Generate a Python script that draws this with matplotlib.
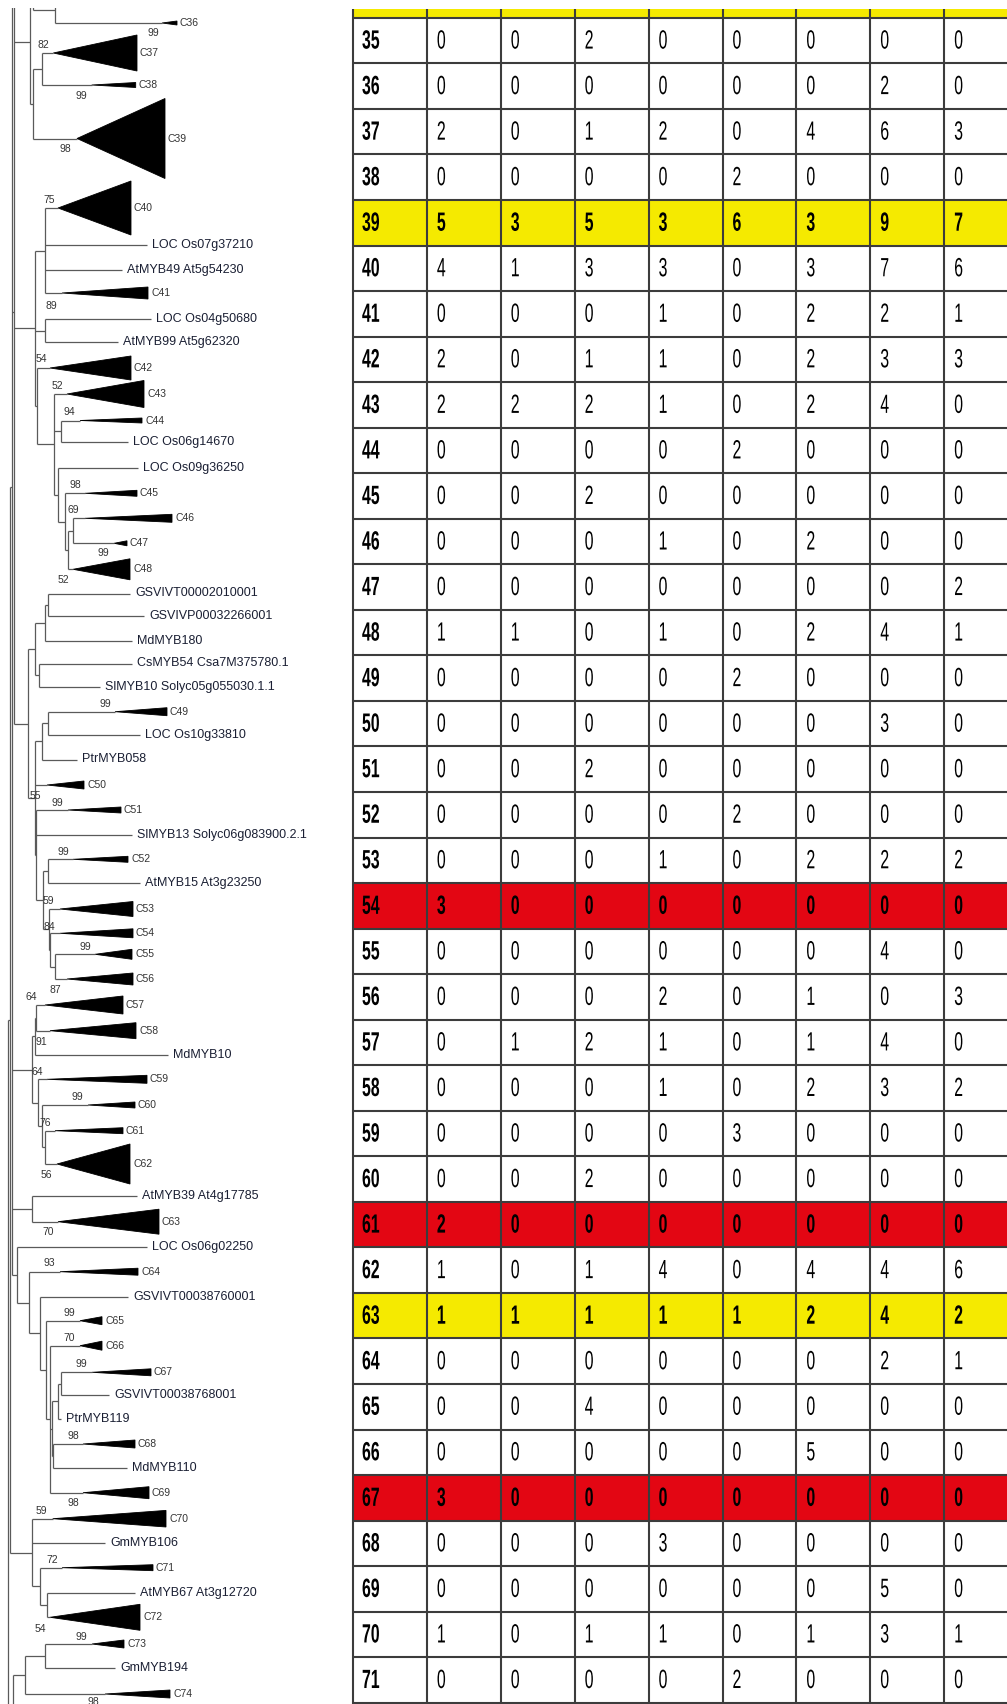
import matplotlib.pyplot as plt
from matplotlib.patches import Polygon, Rectangle
from matplotlib.collections import LineCollection
from matplotlib.patheffects import AbstractPathEffect
from matplotlib.transforms import Affine2D

W, H = 1007, 1704

# ---- tree data (pixel units of the original figure) ----
# leaf name -> (y, end of branch)
leaves = {
    'LOC Os07g37210': (245, 147),
    'AtMYB49 At5g54230': (270, 122),
    'LOC Os04g50680': (319, 151),
    'AtMYB99 At5g62320': (342, 118),
    'LOC Os06g14670': (442.3, 128),
    'LOC Os09g36250': (467.7, 138),
    'GSVIVT00002010001': (593.5, 130),
    'GSVIVP00032266001': (616, 144),
    'MdMYB180': (640.5, 132),
    'CsMYB54 Csa7M375780.1': (663.5, 132),
    'SlMYB10 Solyc05g055030.1.1': (687, 100),
    'LOC Os10g33810': (735, 140),
    'PtrMYB058': (759.5, 77),
    'SlMYB13 Solyc06g083900.2.1': (835, 132),
    'AtMYB15 At3g23250': (883, 140),
    'MdMYB10': (1055, 168),
    'AtMYB39 At4g17785': (1196, 137),
    'LOC Os06g02250': (1246.7, 147),
    'GSVIVT00038760001': (1296.7, 128),
    'GSVIVT00038768001': (1395, 109),
    'PtrMYB119': (1419, 61),
    'MdMYB110': (1468, 127),
    'GmMYB106': (1543.3, 105),
    'AtMYB67 At3g12720': (1592.7, 135),
    'GmMYB194': (1668.3, 115),
}
# branches that continue outside the cropped view
hidden = {'_t1': (-300, 200), '_t2': (-100, 200), '_t3': (-49, 200),
          '_t4': (-3, 150), '_t5': (1900, 200)}

# collapsed clade -> (y, triangle start, triangle end, half height)
clades = {
    'C36': (23, 162, 177, 2), 'C37': (53, 53.3, 137, 18), 'C38': (85, 91.7, 135.7, 2.5),
    'C39': (138.5, 77, 165, 40), 'C40': (208, 58, 131, 27), 'C41': (293, 62, 148, 6),
    'C42': (368, 50, 131, 12), 'C43': (394, 67, 144, 13.5), 'C44': (420.5, 80, 142, 2.5),
    'C45': (493.3, 85, 137, 3), 'C46': (518.3, 85, 172, 4), 'C47': (543.3, 114, 127, 2.5),
    'C48': (569.3, 73, 130, 10.5), 'C49': (711.7, 115, 167, 4), 'C50': (785, 47, 84, 4),
    'C51': (810, 68, 121, 3), 'C52': (859.3, 73, 128, 3), 'C53': (909, 60, 133, 7.5),
    'C54': (933.3, 60, 133, 4.5), 'C55': (954.3, 95, 132, 5), 'C56': (979, 67, 133, 6),
    'C57': (1005, 45, 123, 9), 'C58': (1030.7, 50, 136, 8), 'C59': (1079.3, 47, 147, 4),
    'C60': (1105, 88, 135, 3), 'C61': (1130.7, 55, 123, 3), 'C62': (1164, 57, 130, 20),
    'C63': (1221.7, 58, 159, 12.5), 'C64': (1271.7, 60, 138, 3.5), 'C65': (1320.7, 80, 102, 4),
    'C66': (1345.7, 80, 102, 4.5), 'C67': (1372.3, 92, 151, 3.5), 'C68': (1444, 83, 135, 4),
    'C69': (1492.7, 83, 149, 6), 'C70': (1518.7, 52.7, 166, 8.3), 'C71': (1567.7, 62, 153, 3),
    'C72': (1617.3, 50, 140, 13), 'C73': (1644, 92, 124, 4), 'C74': (1694, 105, 170, 4),
}


def N(x, *kids):
    return (x, list(kids))


tree = N(7.5,
    N(10,
        N(11.7,
            '_t1',
            N(14.3,
                '_t2',
                N(30, N(33, '_t3', N(55, '_t4', 'C36')),
                      N(33, N(41.7, 'C37', 'C38'), 'C39')),
                N(35, N(45, 'C40', 'LOC Os07g37210', 'AtMYB49 At5g54230', 'C41'),
                      N(45, 'LOC Os04g50680', 'AtMYB99 At5g62320'),
                      N(37, 'C42',
                        N(53.7, 'C43', N(61, 'C44', 'LOC Os06g14670'),
                          N(58.3, 'LOC Os09g36250',
                            N(65, 'C45', N(68.3, N(73, 'C46', 'C47'), 'C48')))))),
                N(28.3,
                  N(35, N(45, N(48.3, 'GSVIVT00002010001', 'GSVIVP00032266001'), 'MdMYB180'),
                        N(38.7, 'CsMYB54 Csa7M375780.1', 'SlMYB10 Solyc05g055030.1.1')),
                  N(35, N(41.7, N(47.7, 'C49', 'LOC Os10g33810'), 'PtrMYB058'),
                        'C50',
                        N(36, 'C51', 'SlMYB13 Solyc06g083900.2.1',
                          N(43.3, N(48.3, 'C52', 'AtMYB15 At3g23250'),
                                  N(49, 'C53', N(50, 'C54', N(54.7, 'C55', 'C56')))))))),
            N(32.3, N(34.5, N(36, 'C57', 'C58'), 'MdMYB10'),
                    N(37.7, 'C59', N(41.7, 'C60', N(45, 'C61', 'C62')))),
            N(32.3, 'AtMYB39 At4g17785', 'C63'),
            N(16.7, 'LOC Os06g02250',
              N(29.3, 'C64',
                N(39.7, 'GSVIVT00038760001',
                  N(45.7, 'C65',
                    N(49.7, 'C66',
                      N(51.7, N(58.3, N(60.7, 'C67', 'GSVIVT00038768001'), 'PtrMYB119'),
                              N(53.3, 'C68', 'MdMYB110')),
                      'C69'))))),
        ),
        N(32.3, 'C70', 'GmMYB106', N(39.7, 'C71', N(46.7, 'AtMYB67 At3g12720', 'C72'))),
    ),
    N(12.7, N(25, N(45, 'C73', 'GmMYB194'), 'C74'), '_t5'),
)

# bootstrap values: (text, left x, y)
boots = [
    ('99', 147, 33), ('82', 38, 45), ('99', 75, 96), ('98', 60, 149), ('75', 43, 200),
    ('89', 46, 306), ('54', 36, 359), ('52', 52, 386), ('94', 63, 412), ('98', 70, 485),
    ('69', 68, 510), ('99', 98, 553), ('52', 58, 580), ('99', 99, 704), ('55', 30, 796),
    ('99', 52, 803), ('99', 57, 852), ('59', 43, 901), ('84', 44, 927), ('99', 79, 947),
    ('87', 50, 990), ('64', 25, 997), ('91', 35, 1042), ('64', 31, 1072), ('99', 72, 1097),
    ('76', 39, 1123), ('56', 41, 1175), ('70', 42, 1232), ('93', 43, 1263), ('99', 64, 1313),
    ('70', 63, 1338), ('99', 76, 1364), ('98', 68, 1436), ('98', 68, 1503), ('59', 36, 1511),
    ('72', 46, 1560), ('54', 35, 1629), ('99', 75, 1637), ('98', 88, 1702),
]

# ---- table data ----
row_ids = list(range(35, 72))
counts = [
    [0, 0, 2, 0, 0, 0, 0, 0], [0, 0, 0, 0, 0, 0, 2, 0], [2, 0, 1, 2, 0, 4, 6, 3],
    [0, 0, 0, 0, 2, 0, 0, 0], [5, 3, 5, 3, 6, 3, 9, 7], [4, 1, 3, 3, 0, 3, 7, 6],
    [0, 0, 0, 1, 0, 2, 2, 1], [2, 0, 1, 1, 0, 2, 3, 3], [2, 2, 2, 1, 0, 2, 4, 0],
    [0, 0, 0, 0, 2, 0, 0, 0], [0, 0, 2, 0, 0, 0, 0, 0], [0, 0, 0, 1, 0, 2, 0, 0],
    [0, 0, 0, 0, 0, 0, 0, 2], [1, 1, 0, 1, 0, 2, 4, 1], [0, 0, 0, 0, 2, 0, 0, 0],
    [0, 0, 0, 0, 0, 0, 3, 0], [0, 0, 2, 0, 0, 0, 0, 0], [0, 0, 0, 0, 2, 0, 0, 0],
    [0, 0, 0, 1, 0, 2, 2, 2], [3, 0, 0, 0, 0, 0, 0, 0], [0, 0, 0, 0, 0, 0, 4, 0],
    [0, 0, 0, 2, 0, 1, 0, 3], [0, 1, 2, 1, 0, 1, 4, 0], [0, 0, 0, 1, 0, 2, 3, 2],
    [0, 0, 0, 0, 3, 0, 0, 0], [0, 0, 2, 0, 0, 0, 0, 0], [2, 0, 0, 0, 0, 0, 0, 0],
    [1, 0, 1, 4, 0, 4, 4, 6], [1, 1, 1, 1, 1, 2, 4, 2], [0, 0, 0, 0, 0, 0, 2, 1],
    [0, 0, 4, 0, 0, 0, 0, 0], [0, 0, 0, 0, 0, 5, 0, 0], [3, 0, 0, 0, 0, 0, 0, 0],
    [0, 0, 0, 3, 0, 0, 0, 0], [0, 0, 0, 0, 0, 0, 5, 0], [1, 0, 1, 1, 0, 1, 3, 1],
    [0, 0, 0, 0, 2, 0, 0, 0],
]
highlight = {34: '#f5ea00', 39: '#f5ea00', 63: '#f5ea00',
             54: '#e30613', 61: '#e30613', 67: '#e30613'}


class Squeeze(AbstractPathEffect):
    """narrow the glyphs horizontally (the table image is condensed)"""

    def __init__(self, sx):
        super().__init__()
        self.sx = sx

    def draw_path(self, renderer, gc, tpath, affine, rgbFace=None):
        renderer.draw_path(gc, tpath, Affine2D().scale(self.sx, 1) + affine, rgbFace)


fig = plt.figure(figsize=(W / 100, H / 100), dpi=100)
ax = fig.add_axes([0, 0, 1, 1])
ax.set_xlim(0, W)
ax.set_ylim(H, 0)
ax.axis('off')

# ---- draw the tree ----
segs = []


def tip_end(name):
    if name in clades:
        return clades[name][0], clades[name][1]
    if name in leaves:
        return leaves[name]
    return hidden[name]


def draw(node):
    x, kids = node
    ys = []
    for k in kids:
        if isinstance(k, str):
            y, xe = tip_end(k)
        else:
            y = draw(k)
            xe = k[0]
        segs.append([(x, y), (xe, y)])
        ys.append(y)
    segs.append([(x, min(ys)), (x, max(ys))])
    return (min(ys) + max(ys)) / 2


draw(tree)
ax.add_collection(LineCollection(segs, colors='#5a5a5a', linewidths=0.9))

for name, (y, xs, xe, h) in clades.items():
    ax.add_patch(Polygon([(xs, y), (xe, y - h), (xe, y + h)], closed=True,
                         facecolor='black', edgecolor='black', linewidth=0.6))
    ax.text(xe + 3, y, name, fontsize=7.5, color='#333333', va='center', ha='left',
            family='Liberation Sans')

for name, (y, xe) in leaves.items():
    ax.text(xe + 5, y, name, fontsize=9, color='#1a1f33', va='center', ha='left',
            family='Liberation Sans')

for t, x, y in boots:
    ax.text(x, y, t, fontsize=7.5, color='#333333', va='center', ha='left',
            family='Liberation Sans')

# ---- draw the table ----
tab_x0 = 353
col_w = 73.9
row_y0 = 17.8
row_h = 45.54
n_cols = 9
narrow = [Squeeze(0.6)]

# partially visible row above
ax.add_patch(Rectangle((tab_x0, 8.5), W - tab_x0, row_y0 - 8.5,
                       facecolor=highlight[34], edgecolor='none'))

for i, rid in enumerate(row_ids):
    top = row_y0 + i * row_h
    if rid in highlight:
        ax.add_patch(Rectangle((tab_x0, top), W - tab_x0, row_h,
                               facecolor=highlight[rid], edgecolor='none'))
    bold_row = rid in highlight
    ax.text(tab_x0 + 9, top + row_h / 2 + 1, str(rid), fontsize=19, fontweight='bold',
            va='center', ha='left', family='Liberation Sans', color='black',
            path_effects=narrow)
    for j, v in enumerate(counts[i]):
        ax.text(tab_x0 + (j + 1) * col_w + 10, top + row_h / 2 + 1, str(v), fontsize=19,
                fontweight='bold' if bold_row else 'normal',
                va='center', ha='left', family='Liberation Sans', color='black',
                path_effects=narrow)

grid = []
for i in range(len(row_ids) + 1):
    y = row_y0 + i * row_h
    grid.append([(tab_x0, y), (W, y)])
for j in range(n_cols + 1):
    x = tab_x0 + j * col_w
    grid.append([(x, 8.5), (x, H)])
ax.add_collection(LineCollection(grid, colors='#3c3c3c', linewidths=1.5))

# white margin at the very top of the crop
ax.add_patch(Rectangle((0, 0), W, 7.5, facecolor='white', edgecolor='none', zorder=10))

fig.savefig('out.png', dpi=100)
